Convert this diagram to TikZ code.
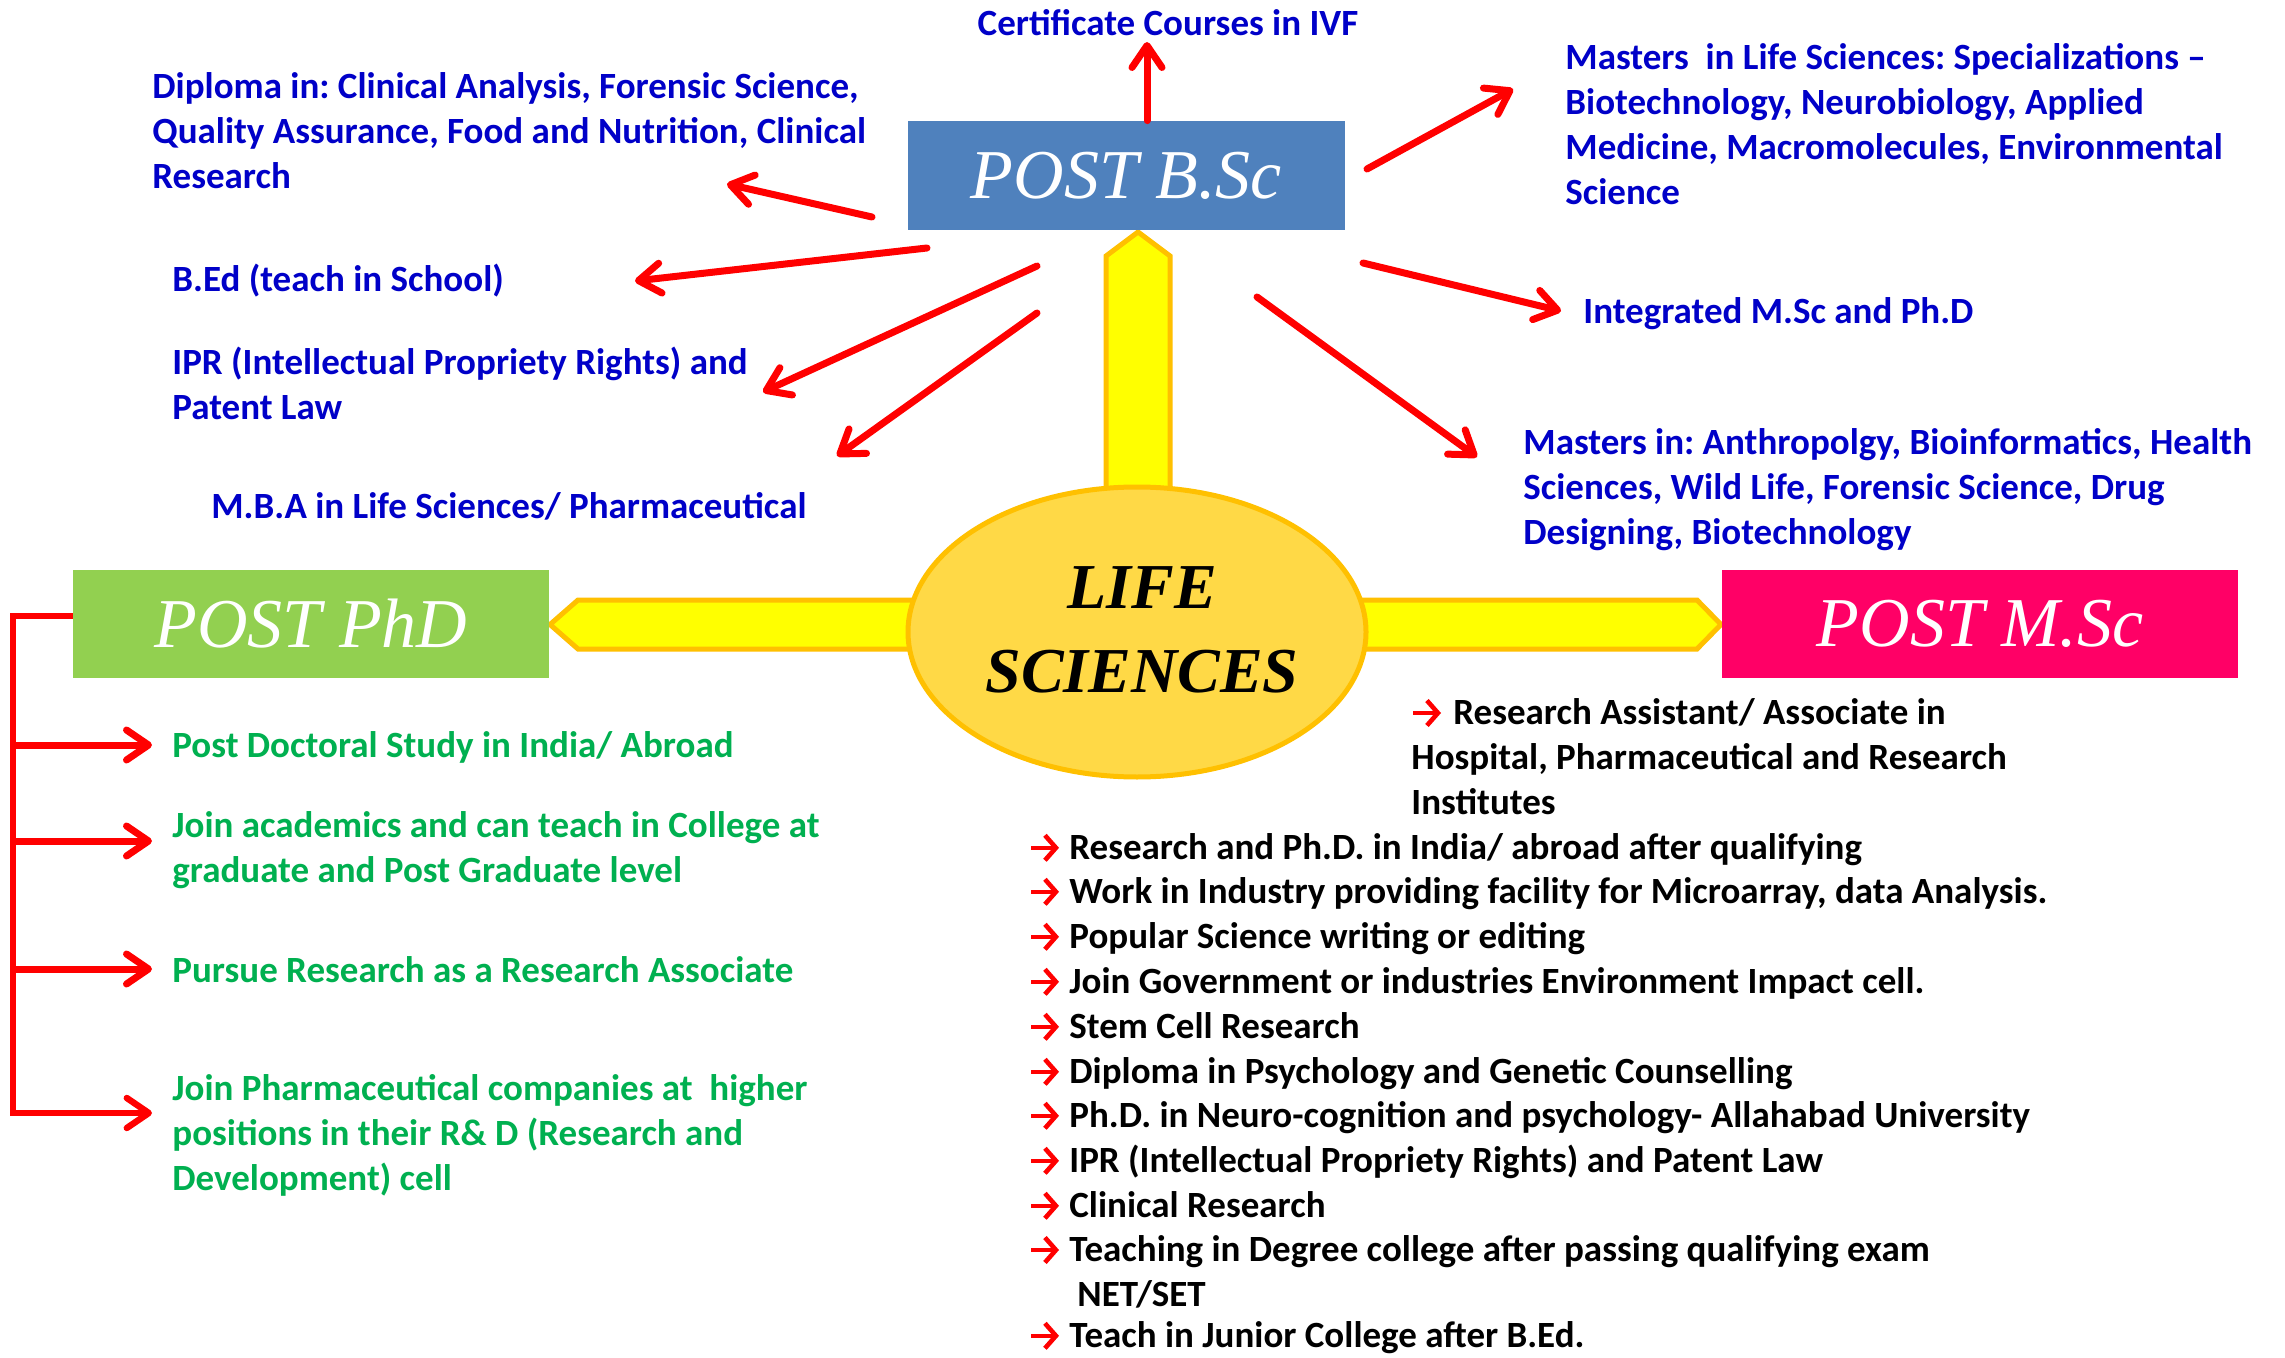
\documentclass[tikz,border=0pt]{standalone}
\usepackage{fontspec}
\usetikzlibrary{arrows.meta,shapes.geometric,calc}
\newfontfamily\carl{Carlito}
\newfontfamily\titl{Liberation Serif}
\definecolor{txtblue}{RGB}{0,0,200}
\definecolor{txtgreen}{RGB}{0,176,80}
\definecolor{arrred}{RGB}{255,0,0}
\definecolor{bscblue}{RGB}{79,129,189}
\definecolor{phdgreen}{RGB}{146,208,80}
\definecolor{mscpink}{RGB}{255,0,102}
\definecolor{yfill}{RGB}{255,255,0}
\definecolor{yborder}{RGB}{255,192,0}
\definecolor{ellfill}{RGB}{255,217,70}
\newcommand\txtsz{\fontsize{18.5}{22.4}\selectfont\frenchspacing}
\begin{document}
\begin{tikzpicture}[x=0.5pt,y=-0.5pt,
  redarr/.style={draw=arrred, line width=3.5pt, line cap=round, -{Straight Barb[round,length=11pt,width=15pt]}},
  bracket/.style={draw=arrred, line width=3.2pt, line join=miter, -{Straight Barb[round,length=11pt,width=15pt]}},
  listarrow/.style={draw=arrred, line width=2.3pt, -{Straight Barb[length=5.5pt,width=12.5pt]}},
  txt/.style={font=\carl\bfseries\txtsz, inner sep=0pt, align=left},
  bluet/.style={txt, text=txtblue},
  greent/.style={txt, text=txtgreen},
  blackt/.style={txt, text=black},
  titlebox/.style={rectangle, inner sep=0pt, text=white, font=\titl\itshape\fontsize{35}{40}\selectfont, minimum height=54.5pt},
  yarrow/.style={fill=yfill, draw=yborder, line width=2.5pt, line join=miter},
]
\fill[white] (0,0) rectangle (2285,1358);
\useasboundingbox (0,0) rectangle (2285,1358);

% yellow connector arrows
\draw[yarrow] (1106,500) -- (1106,256) -- (1138,232) -- (1170,256) -- (1170,500) -- cycle;
\draw[yarrow] (930,600) -- (578,600) -- (550,624.5) -- (578,649) -- (930,649) -- cycle;
\draw[yarrow] (1345,600) -- (1697,600) -- (1721,624.5) -- (1697,649) -- (1345,649) -- cycle;

% centre ellipse
\node[ellipse, fill=ellfill, draw=yborder, line width=2.5pt, minimum width=229pt, minimum height=145pt, inner sep=0pt] (life) at (1137,632) {};
\node[font=\titl\bfseries\itshape\fontsize{32}{42}\selectfont, align=center, inner sep=0pt] (lifetxt) at (1142,630) {LIFE\\SCIENCES};

% title boxes
\node[titlebox, fill=bscblue, minimum width=218.5pt] (bsc) at (1126.5,175.5) {POST B.Sc};
\node[titlebox, fill=phdgreen, minimum width=238pt, minimum height=54pt] (phd) at (311,624) {POST PhD};
\node[titlebox, fill=mscpink, minimum width=258pt, minimum height=54pt] (msc) at (1980,624) {POST M.Sc};

% POST B.Sc texts
\node[bluet, anchor=base] (cert) at (1168,36) {Certificate Courses in IVF};
\node[bluet, anchor=north west] (dip) at (152,67) {\strut Diploma in: Clinical Analysis, Forensic Science,\\Quality Assurance, Food and Nutrition, Clinical\\Research};
\node[bluet, anchor=base west] (bed) at (172,292) {B.Ed (teach in School)};
\node[bluet, anchor=north west] (ipr) at (172,343) {\strut IPR (Intellectual Propriety Rights) and\\Patent Law};
\node[bluet, anchor=base west] (mba) at (211,518) {M.B.A in Life Sciences/ Pharmaceutical};
\node[bluet, anchor=north west] (mls) at (1565,38) {\strut Masters~ in Life Sciences: Specializations –\\Biotechnology, Neurobiology, Applied\\Medicine, Macromolecules, Environmental\\Science};
\node[bluet, anchor=base west] (integ) at (1583,324) {Integrated M.Sc and Ph.D};
\node[bluet, anchor=north west] (msin) at (1523,423) {\strut Masters in: Anthropolgy, Bioinformatics, Health\\Sciences, Wild Life, Forensic Science, Drug\\Designing, Biotechnology};

% POST B.Sc arrows
\coordinate (tCert) at (1147,42);
\coordinate (sDip) at (872,217);   \coordinate (tDip) at (727,184);
\coordinate (sBed) at (927,248);   \coordinate (tBed) at (635,281);
\coordinate (sIpr) at (1037,266);  \coordinate (tIpr) at (763,392);
\coordinate (sMba) at (1037,313);  \coordinate (tMba) at (837,456);
\coordinate (sMls) at (1367,169);  \coordinate (tMls) at (1513,89);
\coordinate (sInt) at (1363,263);  \coordinate (tInt) at (1561,311);
\coordinate (sMsin) at (1257,297); \coordinate (tMsin) at (1477,457);
\draw[redarr] (bsc.north -| tCert) -- (tCert);
\draw[redarr] (sDip) -- (tDip);
\draw[redarr] (sBed) -- (tBed);
\draw[redarr] (sIpr) -- (tIpr);
\draw[redarr] (sMba) -- (tMba);
\draw[redarr] (sMls) -- (tMls);
\draw[redarr] (sInt) -- (tInt);
\draw[redarr] (sMsin) -- (tMsin);

% POST PhD texts
\node[greent, anchor=base west] (g1) at (172,757) {Post Doctoral Study in India/ Abroad};
\node[greent, anchor=north west] (g2) at (172,806) {\strut Join academics and can teach in College at\\graduate and Post Graduate level};
\node[greent, anchor=base west] (g3) at (172,982) {Pursue Research as a Research Associate};
\node[greent, anchor=north west] (g4) at (172,1069) {\strut Join Pharmaceutical companies at~ higher\\positions in their R\& D (Research and\\Development) cell};

% POST PhD bracket
\coordinate (brTop) at (13,616);
\coordinate (b1) at (152,745);
\coordinate (b2) at (152,841);
\coordinate (b3) at (152,969);
\coordinate (b4) at (152,1113);
\draw[bracket] (phd.west |- brTop) -- (brTop) -- (brTop |- b4) -- (b4);
\draw[redarr, line cap=butt] (brTop |- b1) -- (b1);
\draw[redarr, line cap=butt] (brTop |- b2) -- (b2);
\draw[redarr, line cap=butt] (brTop |- b3) -- (b3);

% POST M.Sc texts
\node[blackt, anchor=north west] (k1) at (1411,693) {\strut\hspace*{21pt}Research Assistant/ Associate in\\Hospital, Pharmaceutical and Research\\Institutes};
\node[blackt, anchor=base west] (k2) at (1029,859) {\hspace*{20pt}Research and Ph.D. in India/ abroad after qualifying};
\node[blackt, anchor=base west] (k3) at (1029,903) {\hspace*{20pt}Work in Industry providing facility for Microarray, data Analysis.};
\node[blackt, anchor=base west] (k4) at (1029,948) {\hspace*{20pt}Popular Science writing or editing};
\node[blackt, anchor=base west] (k5) at (1029,993) {\hspace*{20pt}Join Government or industries Environment Impact cell.};
\node[blackt, anchor=base west] (k6) at (1029,1038) {\hspace*{20pt}Stem Cell Research};
\node[blackt, anchor=base west] (k7) at (1029,1083) {\hspace*{20pt}Diploma in Psychology and Genetic Counselling};
\node[blackt, anchor=base west] (k8) at (1029,1127) {\hspace*{20pt}Ph.D. in Neuro-cognition and psychology- Allahabad University};
\node[blackt, anchor=base west] (k9) at (1029,1172) {\hspace*{20pt}IPR (Intellectual Propriety Rights) and Patent Law};
\node[blackt, anchor=base west] (k10) at (1029,1217) {\hspace*{20pt}Clinical Research};
\node[blackt, anchor=north west] (k11) at (1029,1230) {\strut\hspace*{20pt}Teaching in Degree college after passing qualifying exam\\\hspace*{24pt}NET/SET};
\node[blackt, anchor=base west] (k12) at (1029,1347) {\hspace*{20pt}Teach in Junior College after B.Ed.};

% red list arrows in front of the M.Sc items
\draw[listarrow] ([shift={(1pt,-10pt)}]k1.north west) -- ++(14pt,0);
\foreach \k in {k2,k3,k4,k5,k6,k7,k8,k9,k10,k12}
  \draw[listarrow] ([shift={(1pt,5.6pt)}]\k.base west) -- ++(14pt,0);
\draw[listarrow] ([shift={(1pt,-10pt)}]k11.north west) -- ++(14pt,0);
\end{tikzpicture}
\end{document}
